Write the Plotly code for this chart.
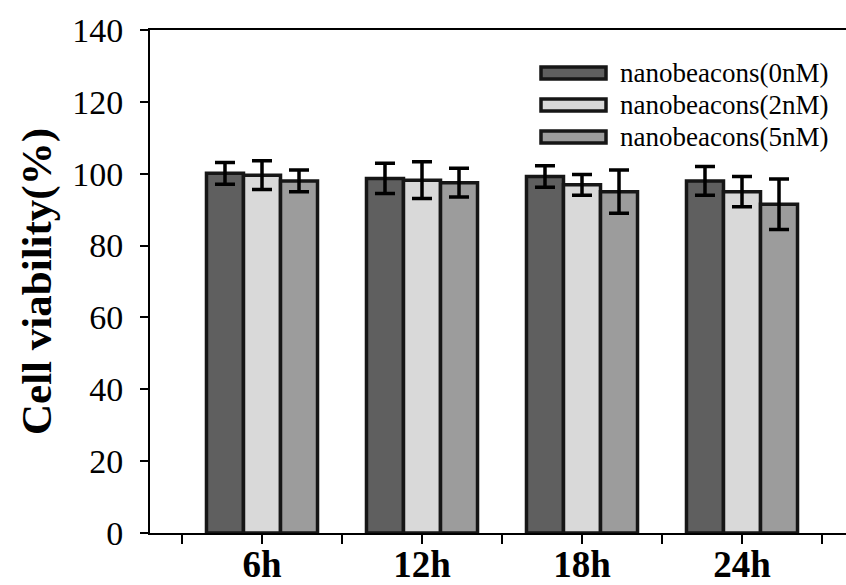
import plotly.graph_objects as go

categories = ["6h", "12h", "18h", "24h"]
series_names = ["nanobeacons(0nM)", "nanobeacons(2nM)", "nanobeacons(5nM)"]
vals_0nM = [100.1, 98.7, 99.2, 98.0]
vals_2nM = [99.6, 98.2, 96.9, 95.0]
vals_5nM = [98.0, 97.5, 95.0, 91.5]
err_0nM = [3.0, 4.2, 3.0, 4.0]
err_2nM = [4.0, 5.1, 2.9, 4.2]
err_5nM = [3.0, 4.0, 6.0, 7.0]
fill_colors = ["#5f5f5f", "#d9d9d9", "#9c9c9c"]
edge = "#161616"
FONT = "Liberation Serif"

x_pos = [i + 1 for i in range(len(categories))]
values = [vals_0nM, vals_2nM, vals_5nM]
errors = [err_0nM, err_2nM, err_5nM]

fig = go.Figure()
for name, v, e, c in zip(series_names, values, errors, fill_colors):
    fig.add_trace(go.Bar(
        x=x_pos, y=v, name=name,
        marker=dict(color=c, line=dict(color=edge, width=3.5)),
        error_y=dict(type="data", array=e, visible=True, color="black",
                     thickness=3.5, width=10),
        showlegend=False,
    ))

# tick positions: category centres and group boundaries
tickvals = []
ticktext = []
for i, cat in enumerate(categories):
    tickvals += [x_pos[i] - 0.5, x_pos[i]]
    ticktext += ["", "<b>%s</b>" % cat]
tickvals.append(x_pos[-1] + 0.5)
ticktext.append("")

L, R, T, B = 150, 0, 30, 52
W, H = 846, 585
pw, ph = W - L - R, H - T - B

fig.update_layout(
    width=W, height=H,
    margin=dict(l=L, r=R, t=T, b=B),
    paper_bgcolor="white", plot_bgcolor="white",
    barmode="group", bargap=0.306, bargroupgap=0,
    font=dict(family=FONT, color="black"),
    xaxis=dict(
        range=[0.3, 4.65], tickmode="array", tickvals=tickvals, ticktext=ticktext,
        ticks="outside", ticklen=9, tickwidth=2, tickcolor="black",
        showline=True, linecolor="black", linewidth=2, mirror=True,
        showgrid=False, zeroline=False, automargin=False,
        tickfont=dict(family=FONT, size=37, color="black"),
        ticklabelstandoff=-11,
    ),
    yaxis=dict(
        range=[0, 140], tickmode="linear", tick0=0, dtick=20,
        ticks="outside", ticklen=8, tickwidth=2, tickcolor="black",
        showline=True, linecolor="black", linewidth=2,
        showgrid=False, zeroline=False, automargin=False,
        tickfont=dict(family=FONT, size=34, color="black"),
        ticklabelstandoff=10,
        title=dict(text="<b>Cell viability(%)</b>",
                   font=dict(family=FONT, size=43, color="black"), standoff=7),
    ),
)

# manual legend (wide swatches like the reference)
def px2paper(px, py):
    return (px - L) / pw, (H - B - py) / ph

row_y = [73, 105, 137]
for name, c, yc in zip(series_names, fill_colors, row_y):
    x0, y0 = px2paper(541, yc + 6)
    x1, y1 = px2paper(606, yc - 6)
    fig.add_shape(type="rect", xref="paper", yref="paper", x0=x0, x1=x1, y0=y0, y1=y1,
                  fillcolor=c, line=dict(color=edge, width=3.5))
    tx, ty = px2paper(618, yc)
    fig.add_annotation(xref="paper", yref="paper", x=tx, y=ty, text=name,
                       showarrow=False, xanchor="left", yanchor="middle",
                       font=dict(family=FONT, size=27, color="black"))

fig.write_html("out.html")
